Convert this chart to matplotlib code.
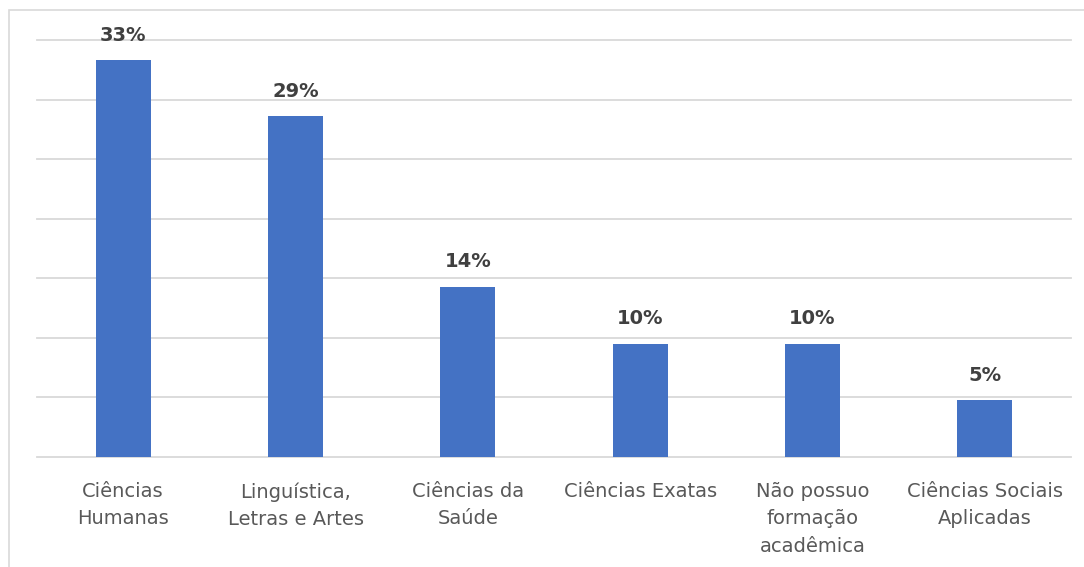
import matplotlib.pyplot as plt
import matplotlib.patches as patches

plt.rcParams["font.family"] = ["DejaVu Sans"]

categories = ["Ciências\nHumanas", "Linguística,\nLetras e Artes", "Ciências da\nSaúde",
              "Ciências Exatas", "Não possuo\nformação\nacadêmica", "Ciências Sociais\nAplicadas"]
values = [33.3, 28.6, 14.3, 9.52, 9.52, 4.76]   # % of respondents (n = 21)

fig = plt.figure(figsize=(10.84, 5.67), dpi=100)
ax = fig.add_axes([37 / 1084, 110 / 567, 1034 / 1084, 417 / 567])

x = range(len(categories))
bars = ax.bar(x, values, width=0.32, color="#4472C4", zorder=3)

for b, v in zip(bars, values):
    ax.annotate(f"{v:.0f}%", (b.get_x() + b.get_width() / 2, v),
                xytext=(0, 11), textcoords="offset points", ha="center", va="bottom",
                fontsize=14, fontweight="bold", color="#404040")

ax.set_xlim(-0.5, len(categories) - 0.5)
ax.set_ylim(0, 35)
ax.set_yticks(range(0, 36, 5))
ax.yaxis.grid(True, color="#D9D9D9", linewidth=1.3, zorder=0)
for gl in ax.get_ygridlines():
    gl.set_clip_on(False)
ax.set_yticklabels([])
ax.tick_params(axis="y", length=0)
ax.set_xticks(list(x))
ax.set_xticklabels(categories, fontsize=14, color="#595959", linespacing=1.56)
ax.tick_params(axis="x", length=0, pad=18)
for s in ax.spines.values():
    s.set_visible(False)

# light frame around the chart area
fig.patches.append(patches.Rectangle((9 / 1084, -0.05), 1.1, 0.05 + 557 / 567,
                                     transform=fig.transFigure, fill=False,
                                     edgecolor="#D9D9D9", linewidth=1.2))

fig.savefig("out.png", dpi=100)
